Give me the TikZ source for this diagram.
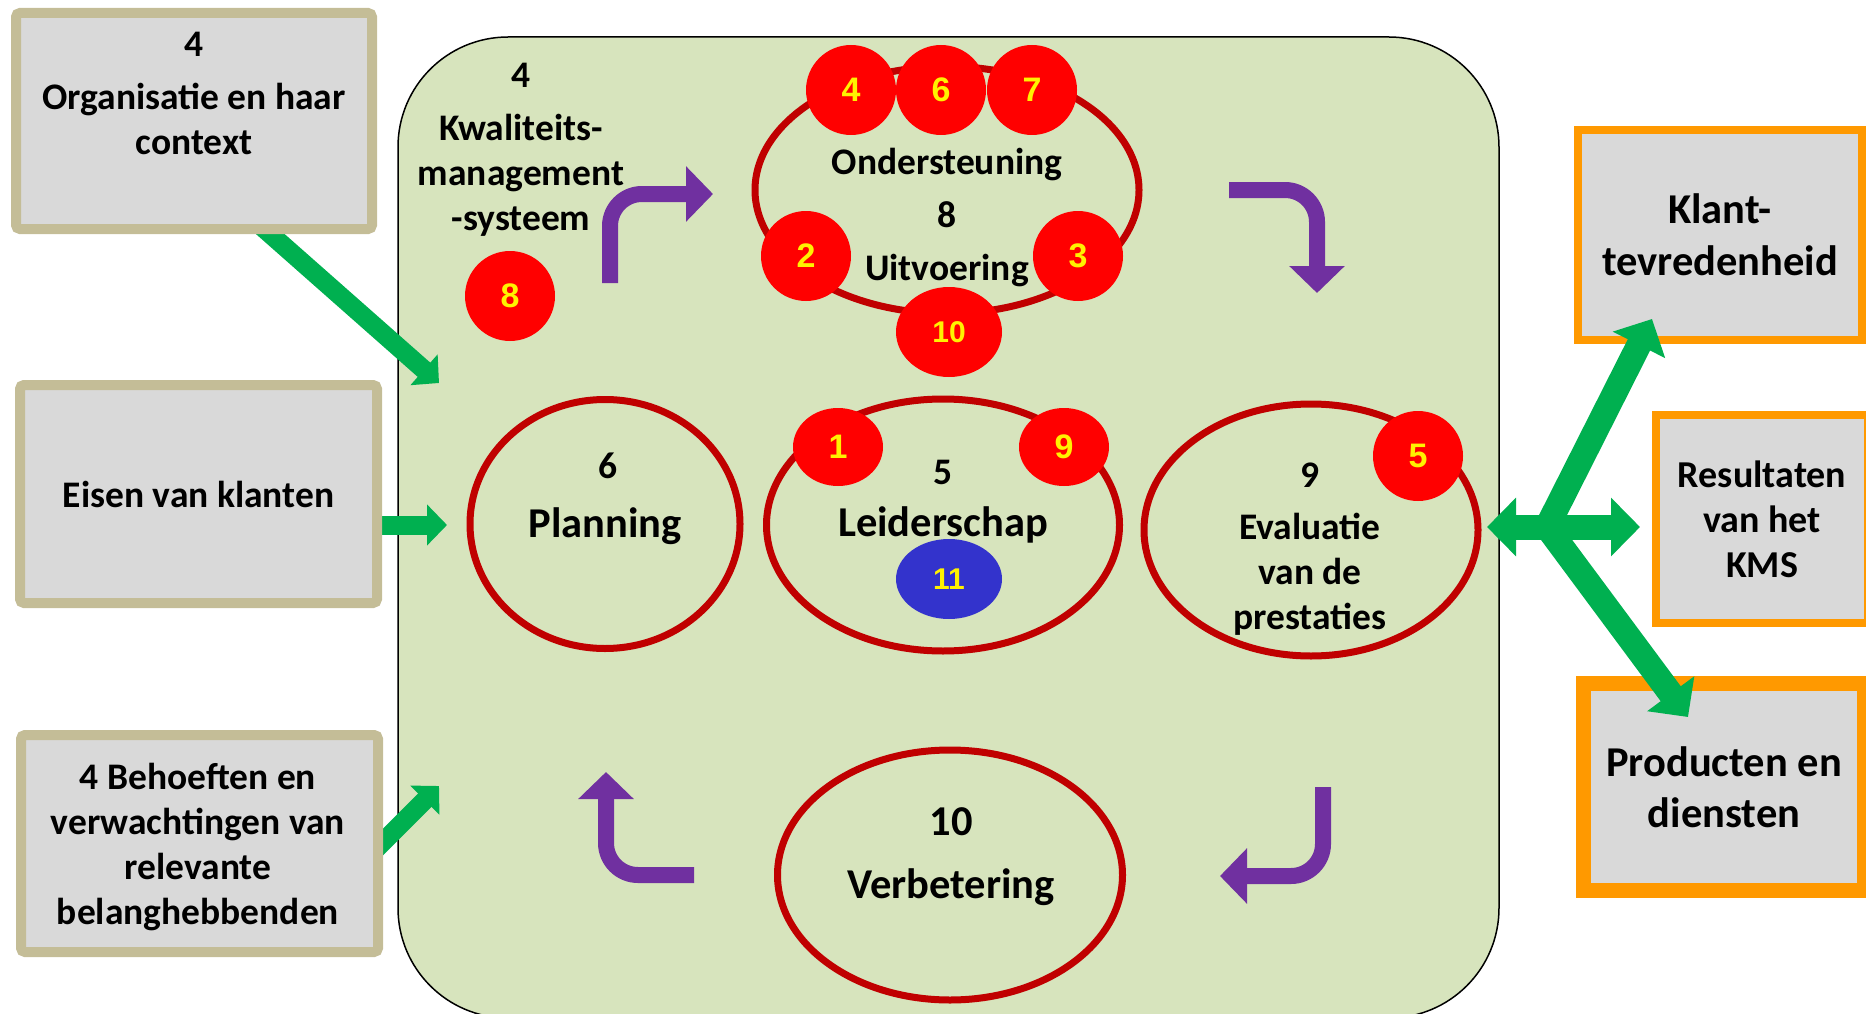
\documentclass[tikz,border=0pt]{standalone}
\usepackage{fontspec}
\setmainfont{Carlito}
\newfontfamily\badgefont{Liberation Sans}
\usetikzlibrary{arrows.meta,shapes.geometric,positioning}

\definecolor{kmsgreen}{HTML}{D7E4BD}
\definecolor{boxgray}{HTML}{D9D9D9}
\definecolor{boxtan}{HTML}{C4BD97}
\definecolor{boxorange}{HTML}{FF9900}
\definecolor{ringred}{HTML}{C00000}
\definecolor{flowgreen}{HTML}{00B050}
\definecolor{turnpurple}{HTML}{7030A0}
\definecolor{badgeblue}{HTML}{3333CC}

\pgfdeclarelayer{back}
\pgfdeclarelayer{front}
\pgfsetlayers{back,main,front}

\tikzset{
  txt/.style={align=center, font=\fontsize{37.5}{45}\selectfont\bfseries},
  bigtxt/.style={align=center, font=\fontsize{42.5}{52}\selectfont\bfseries},
  inbox/.style={txt, draw=boxtan, fill=boxgray, line width=10pt, rounded corners=4pt},
  outbox/.style={txt, draw=boxorange, fill=boxgray, line width=8pt},
  ring/.style={ellipse, draw=ringred, line width=7pt, inner sep=0pt},
  badge/.style={ellipse, fill=red, text=yellow, inner sep=0pt, minimum width=90pt, minimum height=90pt,
    font=\badgefont\fontsize{34}{34}\selectfont\bfseries},
  twodigit/.style={minimum width=106pt, font=\badgefont\fontsize{30}{30}\selectfont\bfseries},
  flow/.style={color=flowgreen, line width=19pt, shorten <=-24pt, -{Triangle[length=20pt,width=40pt]}},
  bigflow/.style={color=flowgreen, line width=25pt, -{Triangle[length=29pt,width=57pt]}},
  turn/.style={color=turnpurple, line width=16pt, rounded corners=32pt, -{Triangle[length=27pt,width=54pt]}}
}

\begin{document}
\begin{tikzpicture}[x=1pt, y=-1pt]
    \useasboundingbox (0,0) rectangle (1866,1014);

    % kwaliteitsmanagementsysteem
    \begin{pgfonlayer}{back}
    \draw[fill=kmsgreen, line width=1.5pt, rounded corners=110pt] (398,37) rectangle (1499,1018);
    \end{pgfonlayer}

    % inputs
    \begin{pgfonlayer}{front}
    \node[inbox, minimum width=356pt, minimum height=216pt] at (194,121)(ctx){};
    \node[inbox, minimum width=357pt, minimum height=218pt] at (198.5,494)(eisen){Eisen van klanten};
    \node[inbox, minimum width=357pt, minimum height=217pt] at (199.5,843.5)(need){};
    \node[txt] at (194,93)(tctx){4\\[8pt]Organisatie en haar\\context};
    \node[txt] at (198,847)(tneed){4 Behoeften en\\verwachtingen van\\relevante\\belanghebbenden};
    \end{pgfonlayer}

    % outputs
    \node[outbox, bigtxt, minimum width=284pt, minimum height=210pt] at (1720,235)(klant){Klant-\\tevredenheid};
    \node[outbox, font=\fontsize{38}{45}\selectfont\bfseries, minimum width=212pt, minimum height=208pt] at (1762,519)(kms){Resultaten\\van het\\KMS};
    \node[outbox, line width=15pt, minimum width=281pt, minimum height=207pt,
          font=\fontsize{42.5}{51}\selectfont\bfseries] at (1724,787)(prod){Producten en\\diensten};

    % rings
    \node[ring, minimum width=384pt, minimum height=247pt] at (947,190)(steun){};
    \node[ring, minimum width=270pt, minimum height=249pt] at (605,524)(plan){};
    \node[ring, minimum width=353pt, minimum height=252pt] at (943,525)(leid){};
    \node[ring, minimum width=334pt, minimum height=252pt] at (1311,530)(eval){};
    \node[ring, minimum width=345pt, minimum height=250pt] at (950,875)(verb){};

    % ring texts
    \node[txt] at (521,150)(tkms){4\\[8pt]Kwaliteits-\\management\\-systeem};
    \node[txt, font=\fontsize{37.5}{53}\selectfont\bfseries] at (947,218)(tsteun){Ondersteuning\\8\\Uitvoering};
    \node[txt] at (608,466)(n6){6};
    \node[bigtxt] at (605,526)(tplan){Planning};
    \node[txt] at (943,472)(n5){5};
    \node[bigtxt] at (943,525)(tleid){Leiderschap};
    \node[txt] at (1310,549)(teval){9\\[7pt]Evaluatie\\van de\\prestaties};
    \node[bigtxt] at (951,822)(n10){10};
    \node[bigtxt] at (951,887)(tverb){Verbetering};

    % badges
    \node[badge] at (851,90)(b4){4};
    \node[badge] at (941,90)(b6){6};
    \node[badge] at (1032,90)(b7){7};
    \node[badge] at (806,256)(b2){2};
    \node[badge] at (1078,256)(b3){3};
    \node[badge, twodigit] at (949,332)(b10){10};
    \node[badge] at (510,296)(b8){8};
    \node[badge, minimum height=78pt] at (838,447)(b1){1};
    \node[badge, minimum height=78pt] at (1064,447)(b9){9};
    \node[badge] at (1418,456)(b5){5};
    \node[badge, twodigit, fill=badgeblue, minimum height=80pt] at (949,579)(b11){11};

    % cycle
    \draw[turn] (610,283) |- (713,194);
    \draw[turn] (1229,190) -| (1317,293);
    \draw[turn] (1323,787) |- (1220,876);
    \draw[turn] (694,875) -| (606,772);

    % green arrows
    \coordinate (ctxtip) at (439,383);
    \coordinate (eisentip) at (447,525);
    \coordinate (needtip) at (439,786);
    \coordinate (hub) at (1547,527);
    \coordinate (evaltip) at (1487,527);
    \coordinate (kmstip) at (1640,527);
    \coordinate (klanttip) at (1652,319);
    \coordinate (prodtip) at (1688,717);

    \path[flow]
    (ctx.-56) edge (ctxtip)
    (eisen.east |- eisentip) edge (eisentip)
    (need.east |- 0,842) edge (needtip)
    ;
    \draw[bigflow, {Triangle[length=29pt,width=57pt]}-{Triangle[length=29pt,width=57pt]}] (evaltip) -- (kmstip);
    \path[bigflow]
    (hub) edge (klanttip)
    (hub) edge (prodtip)
    ;
\end{tikzpicture}
\end{document}
